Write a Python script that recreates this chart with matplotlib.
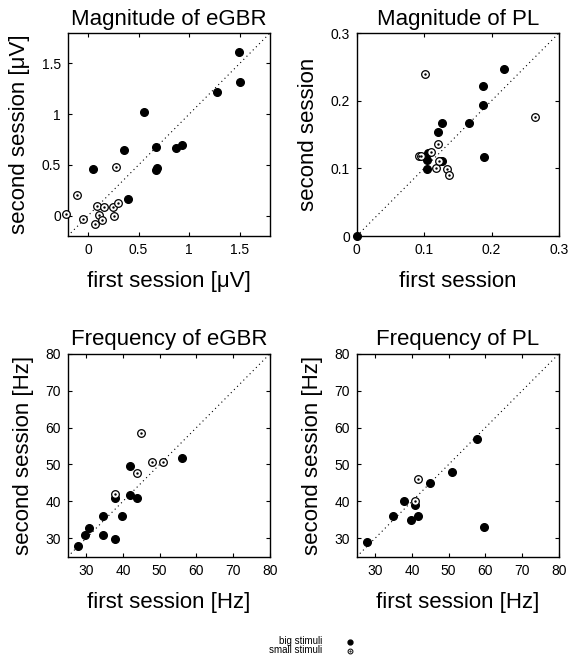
import numpy as np
import matplotlib
matplotlib.use('Agg')
import matplotlib.pyplot as plt
from matplotlib.lines import Line2D

plt.rcParams['font.family'] = ['Liberation Sans', 'DejaVu Sans']

# Magnitude of eGBR [uV]
mag_egbr_big_x = [1.495, 1.504, 1.274, 0.555, 0.355, 0.677, 0.870, 0.929, 0.680, 0.677, 0.046, 0.397]
mag_egbr_big_y = [1.614, 1.320, 1.220, 1.017, 0.648, 0.678, 0.668, 0.700, 0.473, 0.453, 0.459, 0.166]
mag_egbr_small_x = [0.276, -0.105, -0.217, -0.052, 0.089, 0.161, 0.243, 0.299, 0.111, 0.135, 0.066, 0.259]
mag_egbr_small_y = [0.482, 0.208, 0.014, -0.030, 0.096, 0.083, 0.089, 0.123, 0.007, -0.046, -0.085, 0.000]

# Magnitude of PL
mag_pl_big_x = [0.0, 0.2187, 0.1876, 0.187, 0.1669, 0.126, 0.120, 0.106, 0.1046, 0.104, 0.126, 0.123, 0.1886]
mag_pl_big_y = [0.0, 0.2467, 0.221, 0.193, 0.167, 0.1664, 0.1536, 0.1229, 0.112, 0.0987, 0.1105, 0.1105, 0.1165]
mag_pl_small_x = [0.102, 0.264, 0.120, 0.0923, 0.0953, 0.1096, 0.1175, 0.1343, 0.1363, 0.1216]
mag_pl_small_y = [0.240, 0.176, 0.136, 0.119, 0.119, 0.124, 0.1006, 0.0987, 0.0907, 0.111]

# Frequency of eGBR [Hz]
freq_egbr_big_x = [27.8, 29.8, 30.8, 34.7, 34.7, 37.9, 37.9, 39.7, 41.9, 43.9, 41.9, 56.0]
freq_egbr_big_y = [27.9, 31.0, 32.9, 35.9, 31.0, 29.9, 40.8, 35.9, 41.8, 40.8, 49.7, 51.7]
freq_egbr_small_x = [44.8, 47.9, 51.0, 43.9, 37.9]
freq_egbr_small_y = [58.6, 50.7, 50.7, 47.7, 41.9]

# Frequency of PL [Hz]
freq_pl_big_x = [27.8, 34.8, 37.8, 39.8, 40.8, 41.8, 44.8, 50.9, 57.8, 59.7]
freq_pl_big_y = [28.9, 36.0, 40.0, 35.0, 39.0, 36.0, 45.0, 48.0, 57.0, 33.0]
freq_pl_small_x = [41.8, 40.8]
freq_pl_small_y = [46.0, 40.0]

panels = [
    dict(title='Magnitude of eGBR', xlabel='first session [μV]', ylabel='second session [μV]',
         lim=(-0.2, 1.8), ticks=[0, 0.5, 1, 1.5], labels=['0', '0.5', '1', '1.5'],
         big=(mag_egbr_big_x, mag_egbr_big_y), small=(mag_egbr_small_x, mag_egbr_small_y)),
    dict(title='Magnitude of PL', xlabel='first session', ylabel='second session',
         lim=(0, 0.3), ticks=[0, 0.1, 0.2, 0.3], labels=['0', '0.1', '0.2', '0.3'],
         big=(mag_pl_big_x, mag_pl_big_y), small=(mag_pl_small_x, mag_pl_small_y)),
    dict(title='Frequency of eGBR', xlabel='first session [Hz]', ylabel='second session [Hz]',
         lim=(25, 80), ticks=[30, 40, 50, 60, 70, 80], labels=['30', '40', '50', '60', '70', '80'],
         big=(freq_egbr_big_x, freq_egbr_big_y), small=(freq_egbr_small_x, freq_egbr_small_y)),
    dict(title='Frequency of PL', xlabel='first session [Hz]', ylabel='second session [Hz]',
         lim=(25, 80), ticks=[30, 40, 50, 60, 70, 80], labels=['30', '40', '50', '60', '70', '80'],
         big=(freq_pl_big_x, freq_pl_big_y), small=(freq_pl_small_x, freq_pl_small_y)),
]

positions = [
    [0.1186, 0.644, 0.3543, 0.3062],
    [0.6247, 0.644, 0.3543, 0.3062],
    [0.1186, 0.1603, 0.3543, 0.3062],
    [0.6247, 0.1603, 0.3543, 0.3062],
]

fig = plt.figure(figsize=(5.71, 6.63), dpi=100)

for p, pos in zip(panels, positions):
    ax = fig.add_axes(pos)
    lo, hi = p['lim']
    ax.plot([lo, hi], [lo, hi], color='black', lw=0.8, linestyle=(0, (1, 3)), zorder=1)
    ax.plot(p['big'][0], p['big'][1], 'o', ms=5.5, mfc='black', mec='black', zorder=3, clip_on=False)
    ax.plot(p['small'][0], p['small'][1], 'o', ms=5.5, mfc='white', mec='black', mew=0.9, zorder=4, clip_on=False)
    ax.plot(p['small'][0], p['small'][1], '.', ms=1.5, color='black', zorder=5, clip_on=False)
    ax.set_xlim(lo, hi)
    ax.set_ylim(lo, hi)
    ax.set_xticks(p['ticks'])
    ax.set_xticklabels(p['labels'])
    ax.set_yticks(p['ticks'])
    ax.set_yticklabels(p['labels'])
    ax.tick_params(direction='in', top=True, right=True, length=3, width=0.8, labelsize=10, pad=5)
    for s in ax.spines.values():
        s.set_linewidth(1.0)
    ax.set_title(p['title'], fontsize=16, pad=6)
    ax.set_xlabel(p['xlabel'], fontsize=16, labelpad=10)
    ax.set_ylabel(p['ylabel'], fontsize=16, labelpad=8)

# legend at the bottom
fig.text(0.564, 0.0285, 'big stimuli', ha='right', va='baseline', fontsize=7)
fig.text(0.564, 0.0145, 'small stimuli', ha='right', va='baseline', fontsize=7)
fig.add_artist(Line2D([0.613], [0.032], marker='o', ms=3.5, mfc='black', mec='black', transform=fig.transFigure))
fig.add_artist(Line2D([0.613], [0.018], marker='o', ms=3.5, mfc='white', mec='black', mew=0.7, transform=fig.transFigure))
fig.add_artist(Line2D([0.613], [0.018], marker='.', ms=1, color='black', transform=fig.transFigure))

fig.savefig('out.png', dpi=100)
